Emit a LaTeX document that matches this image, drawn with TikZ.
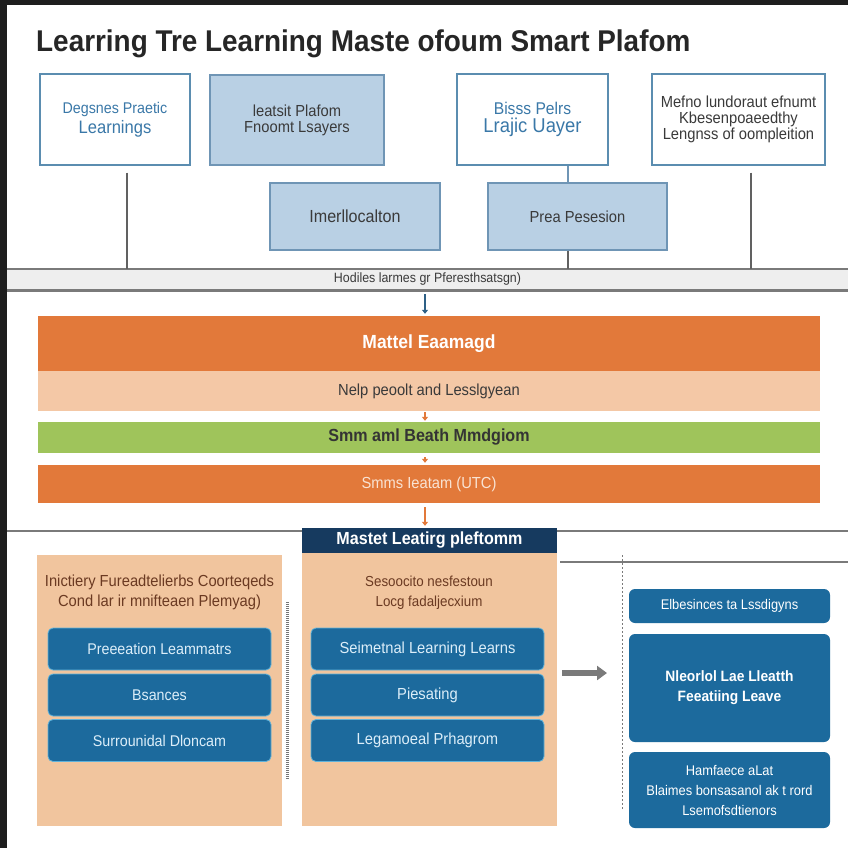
\documentclass[tikz,border=0pt]{standalone}
\usepackage{fontspec}
\setmainfont{Liberation Sans}
\newfontfamily\tfont{Liberation Sans}[FakeStretch=0.93]
\newfontfamily\nfont{Liberation Sans}[FakeStretch=0.92]
\usetikzlibrary{arrows.meta}
\definecolor{frame}{HTML}{1E1E1E}
\definecolor{titlec}{HTML}{262626}
\definecolor{bordb}{HTML}{5B8DB0}
\definecolor{txtb}{HTML}{3A78A8}
\definecolor{lblue}{HTML}{B9D0E4}
\definecolor{lbord}{HTML}{6F95B5}
\definecolor{dtxt}{HTML}{3A3A3A}
\definecolor{orng}{HTML}{E2793A}
\definecolor{peach}{HTML}{F4C8A6}
\definecolor{grn}{HTML}{9FC45B}
\definecolor{navy}{HTML}{163A5F}
\definecolor{bluebx}{HTML}{1C6A9D}
\definecolor{bluebd}{HTML}{5FB2DA}
\definecolor{btxt}{HTML}{DCEEF9}
\definecolor{brown}{HTML}{6B3A22}
\definecolor{lgray}{HTML}{EEEEEE}
\definecolor{lgline}{HTML}{7A7A7A}
\definecolor{pnl}{HTML}{F1C59E}
\newcommand\fs[2]{\fontsize{#1}{#2}\selectfont}
\tikzset{
  bx/.style={draw, line width=1.3pt, inner sep=0pt, align=center, font=\nfont\fs{16}{16}},
  wbox/.style={bx, draw=bordb, fill=white, text=txtb},
  lbox/.style={bx, draw=lbord, fill=lblue, text=dtxt},
  bar/.style={inner sep=0pt, minimum width=782pt, align=center, font=\nfont\fs{16}{18}},
  panel/.style={fill=pnl, inner sep=0pt, minimum width=#1},
  bb/.style={fill=bluebx, draw=bluebd, line width=0.8pt, rounded corners=5pt, inner sep=0pt, text=btxt, align=center, font=\nfont\fs{15.5}{18}},
  rb/.style={fill=bluebx, rounded corners=6pt, inner sep=0pt, minimum width=201pt, text=white, align=center, font=\nfont\fs{14}{20}},
  gline/.style={draw=lgline, line width=2.6pt},
  vline/.style={draw=dtxt!80, line width=1.6pt},
  tick/.style={-{Triangle[width=6pt,length=4pt]}, line width=2pt, shorten <=4pt, shorten >=2pt}
}
\begin{document}
\begin{tikzpicture}[x=1pt,y=-1pt]
\useasboundingbox (0,0) rectangle (848,848);
\fill[white] (0,0) rectangle (848,848);
\fill[frame] (0,0) rectangle (848,5);
\fill[frame] (0,0) rectangle (7,848);
% title
\node[anchor=west, text=titlec, font=\tfont\bfseries\fs{30}{32}, inner sep=0pt] (title) at (36,44) {Learring Tre Learning Maste ofoum Smart Plafom};
% top boxes
\node[wbox, minimum width=150pt, minimum height=91pt] (b1) at (115,119.5)
  {{\fs{15.5}{16}Degsnes Praetic}\\[3pt]{\fs{18}{18}Learnings}};
\node[lbox, minimum width=174pt, minimum height=90pt] (b2) at (297,120)
  {leatsit Plafom\\Fnoomt Lsayers};
\node[wbox, minimum width=151pt, minimum height=91pt] (b3) at (532.5,119.5)
  {{\fs{17}{17}Bisss Pelrs}\\[2pt]{\fs{20}{20}Lrajic Uayer}};
\node[wbox, draw=bordb, text=dtxt, minimum width=173pt, minimum height=91pt] (b4) at (738.5,119.5)
  {Mefno lundoraut efnumt\\Kbesenpoaeedthy\\Lengnss of oompleition};
\node[lbox, minimum width=170pt, minimum height=67pt, font=\nfont\fs{17.5}{18}] (b5) at (355,216.5) {Imerllocalton};
\node[lbox, minimum width=179pt, minimum height=67pt] (b6) at (577.5,216.5) {Prea Pesesion};
% band
\node[fill=lgray, minimum width=841pt, minimum height=21pt, inner sep=0pt, text=dtxt, font=\nfont\fs{13.5}{14}] (band) at (427.5,279.5) {Hodiles larmes gr Pferesthsatsgn)};
\draw[gline] (band.north west) -- (band.north east);
\draw[gline] (band.south west) -- (band.south east);
% vertical connectors
\draw[vline, shorten <=7pt] ([xshift=12pt]b1.south) -- ([xshift=12pt]b1.south |- band.north);
\draw[vline, shorten <=7pt] ([xshift=12.5pt]b4.south) -- ([xshift=12.5pt]b4.south |- band.north);
\draw[vline, draw=lbord, line width=1.3pt] ([xshift=35.5pt]b3.south) -- ([xshift=-9.5pt]b6.north);
\draw[vline, line width=1.3pt] ([xshift=-9.5pt]b6.south) -- ([xshift=-9.5pt]b6.south |- band.north);
% bars
\node[bar, fill=orng, minimum height=55pt, text=white, font=\nfont\bfseries\fs{19}{20}] (r1) at (429,343.5) {Mattel Eaamagd};
\node[bar, fill=peach, minimum height=40pt, text=dtxt] (r2) at (429,391) {Nelp peoolt and Lesslgyean};
\node[bar, fill=grn, minimum height=31pt, text=dtxt!90!black, font=\nfont\bfseries\fs{17.5}{18}] (r3) at (429,437.5) {Smm aml Beath Mmdgiom};
\node[bar, fill=orng, minimum height=38pt, text=peach!50!white] (r4) at (429,484) {Smms Ieatam (UTC)};
% header and panels
\node[fill=navy, minimum width=255pt, minimum height=25pt, inner sep=0pt, text=white, font=\nfont\bfseries\fs{17.5}{18}] (hd) at (429.5,540.5) {Mastet Leatirg pleftomm};
\node[panel=245pt, minimum height=271pt] (lp) at (159.5,690.5) {};
\node[panel=255pt, minimum height=273pt] (mp) at (429.5,689.5) {};
% small arrows between layers
\draw[tick, draw=txtb!80!black, fill=txtb!80!black] (band.south -| 425,0) -- (r1.north -| 425,0);
\draw[tick, draw=orng, fill=orng, shorten <=1pt, shorten >=1pt] (r2.south -| 425,0) -- (r3.north -| 425,0);
\draw[tick, draw=orng, fill=orng] (r3.south -| 425,0) -- (r4.north -| 425,0);
\draw[tick, draw=orng, fill=orng] (r4.south -| 425,0) -- (hd.north -| 425,0);
% horizontal rules
\draw[gline] (7,531) -- (hd.west |- 0,531);
\draw[gline] (hd.east |- 0,531) -- (848,531);
\draw[gline, line width=2.2pt] (560,562) -- (848,562);
% panel texts
\node[text=brown, align=center, font=\nfont\fs{16}{20}] (lt) at (159.5,592.5) {Inictiery Fureadtelierbs Coorteqeds\\Cond lar ir mnifteaen Plemyag)};
\node[text=brown, align=center, font=\nfont\fs{14.5}{20}] (mt) at (429,593) {Sesoocito nesfestoun\\Locg fadaljecxium};
% blue boxes left
\node[bb, minimum width=223pt, minimum height=42pt] (l1) at (159.5,649) {Preeeation Leammatrs};
\node[bb, minimum width=223pt, minimum height=42pt] (l2) at (159.5,695) {Bsances};
\node[bb, minimum width=223pt, minimum height=42pt] (l3) at (159.5,740.5) {Surrounidal Dloncam};
% blue boxes middle
\node[bb, minimum width=233pt, minimum height=42pt, font=\nfont\fs{16}{18}] (m1) at (427.5,649) {Seimetnal Learning Learns};
\node[bb, minimum width=233pt, minimum height=42pt, font=\nfont\fs{16}{18}] (m2) at (427.5,695) {Piesating};
\node[bb, minimum width=233pt, minimum height=42pt, font=\nfont\fs{16}{18}] (m3) at (427.5,740.5) {Legamoeal Prhagrom};
% dotted ruler and dashed line
\draw[draw=dtxt!70, line width=3pt, dash pattern=on 1pt off 1pt] (287,602) -- (287,780);
\draw[draw=lgline, line width=0.9pt, dash pattern=on 2pt off 2pt] (622,555) -- (622,810);
% right boxes
\node[rb, minimum height=34pt] (ra) at (729.5,606) {Elbesinces ta Lssdigyns};
\node[rb, minimum height=108pt, font=\nfont\bfseries\fs{15}{20}] (rbx) at (729.5,688) {Nleorlol Lae Lleatth\\Feeatiing Leave};
\node[rb, minimum height=76pt] (rc) at (729.5,790) {Hamfaece aLat\\Blaimes bonsasanol ak t rord\\Lsemofsdtienors};
% big gray arrow
\coordinate (arrend) at (607,673);
\draw[draw=lgline, line width=6pt, -{Triangle[width=14pt,length=10pt]}, shorten <=5pt] (mp.east |- arrend) -- (arrend);
\end{tikzpicture}
\end{document}
